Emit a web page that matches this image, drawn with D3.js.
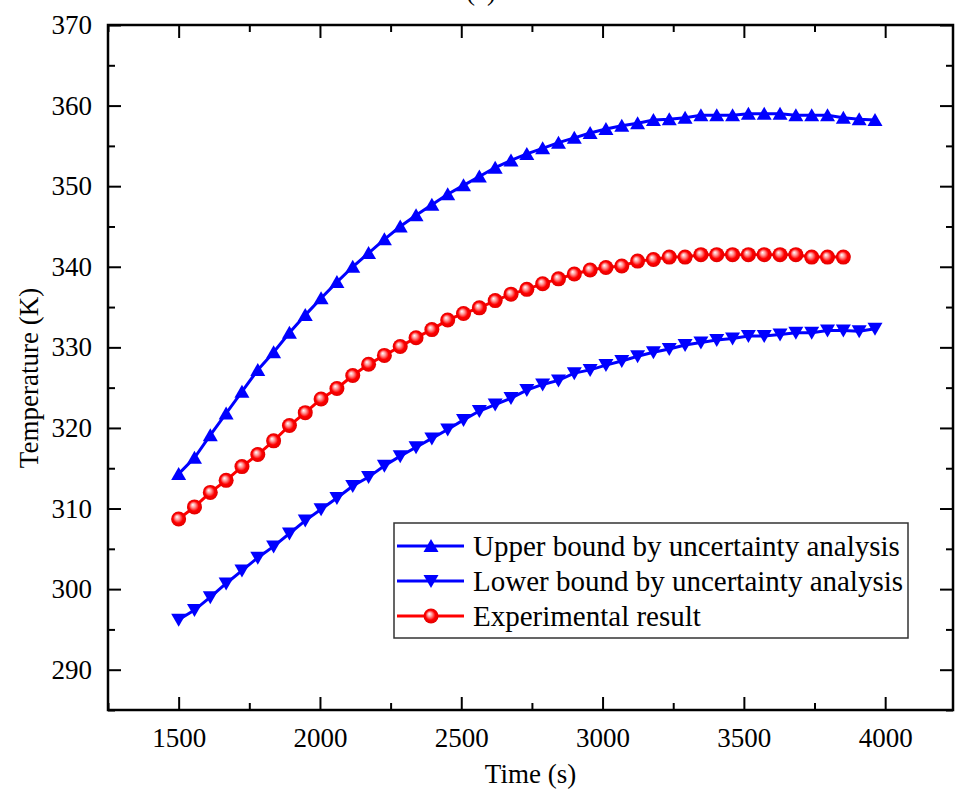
<!DOCTYPE html>
<html>
<head>
<meta charset="utf-8">
<script src="https://cdn.jsdelivr.net/npm/d3@7"></script>
<style>
  body { margin: 0; background: #fff; }
  svg { display: block; font-family: "Liberation Serif", "Times New Roman", serif; }
</style>
</head>
<body>
<svg id="chart"></svg>
<script>
// time stamps (s) of the markers
let times = [1500, 1556, 1612, 1668, 1724, 1780, 1836, 1892, 1948, 2004, 2060, 2116, 2172, 2228, 2284,
    2340, 2396, 2452, 2508, 2564, 2620, 2676, 2732, 2788, 2844, 2900, 2956, 3012, 3068, 3124,
    3180, 3236, 3292, 3348, 3404, 3460, 3516, 3572, 3628, 3684, 3740, 3796, 3852, 3908, 3964];

let upperValues = [314.3, 316.3, 319.1, 321.8, 324.5, 327.2, 329.4, 331.8, 334.0, 336.1, 338.1, 340.0,
    341.7, 343.4, 345.0, 346.4, 347.7, 349.0, 350.1, 351.2, 352.3, 353.2, 354.0, 354.7, 355.4, 356.0,
    356.6, 357.1, 357.5, 357.8, 358.2, 358.3, 358.5, 358.8, 358.8, 358.8, 359.0, 359.0, 359.0, 358.8,
    358.8, 358.8, 358.5, 358.3, 358.2];

let lowerValues = [296.2, 297.4, 299.0, 300.7, 302.3, 303.9, 305.3, 306.9, 308.5, 309.9, 311.3, 312.8,
    313.9, 315.3, 316.5, 317.6, 318.7, 319.8, 321.0, 322.1, 322.9, 323.7, 324.7, 325.4, 325.9, 326.8,
    327.2, 327.8, 328.3, 328.9, 329.4, 329.8, 330.3, 330.6, 330.9, 331.1, 331.4, 331.4, 331.6, 331.8,
    331.8, 332.1, 332.1, 332.0, 332.3];

let expValues = [308.7, 310.2, 312.0, 313.5, 315.2, 316.7, 318.4, 320.3, 321.9, 323.6, 324.9, 326.5,
    327.9, 329.0, 330.1, 331.2, 332.2, 333.4, 334.2, 334.9, 335.8, 336.6, 337.2, 337.9, 338.5, 339.1,
    339.6, 339.9, 340.1, 340.7, 340.9, 341.2, 341.2, 341.5, 341.5, 341.5, 341.5, 341.5, 341.5, 341.5,
    341.2, 341.2, 341.2];

let xTicks = [1500, 2000, 2500, 3000, 3500, 4000];
let xMinorTicks = [1250, 1750, 2250, 2750, 3250, 3750];
let yTicks = [290, 300, 310, 320, 330, 340, 350, 360, 370];
let yMinorTicks = [285, 295, 305, 315, 325, 335, 345, 355, 365];

let seriesNames = ["Upper bound by uncertainty analysis", "Lower bound by uncertainty analysis", "Experimental result"];

const width = 956;
const height = 791;
const plotLeft = 108, plotRight = 953, plotTop = 25, plotBottom = 710;
const blue = '#0000ff';
const red = '#ff0000';

let svg = d3.select('#chart').attr('width', width).attr('height', height);

let xScale = d3.scaleLinear().domain([1250, 4240]).range([plotLeft, plotRight]);
let yScale = d3.scaleLinear().domain([285, 370]).range([plotBottom, plotTop]);

// gradient for the shaded balls
let grad = svg.append('defs').append('radialGradient')
    .attr('id', 'ball').attr('cx', '50%').attr('cy', '50%').attr('r', '50%')
    .attr('fx', '38%').attr('fy', '35%');
grad.append('stop').attr('offset', '0%').attr('stop-color', '#ffffff');
grad.append('stop').attr('offset', '30%').attr('stop-color', '#ff9a9a');
grad.append('stop').attr('offset', '65%').attr('stop-color', '#ff0000');
grad.append('stop').attr('offset', '100%').attr('stop-color', '#e00000');

// title, cut off at the top as in the source figure
svg.append('text').attr('x', 481).attr('y', 0).attr('text-anchor', 'middle')
    .attr('font-size', 27).text('(a)');

let styleAxis = (g) => {
    g.select('.domain').remove();
    g.selectAll('line').attr('stroke', '#000').attr('stroke-width', 2);
    g.selectAll('text').attr('font-size', 27).attr('fill', '#000')
        .attr('font-family', '"Liberation Serif", serif');
};

// bottom
svg.append('g').attr('transform', 'translate(0,' + plotBottom + ')')
    .call(d3.axisBottom(xScale).tickValues(xTicks).tickSize(-13).tickPadding(18).tickFormat(d3.format('d')))
    .call(styleAxis);
svg.append('g').attr('transform', 'translate(0,' + plotBottom + ')')
    .call(d3.axisBottom(xScale).tickValues(xMinorTicks).tickSize(-7).tickFormat(''))
    .call(styleAxis);
// top
svg.append('g').attr('transform', 'translate(0,' + plotTop + ')')
    .call(d3.axisTop(xScale).tickValues(xTicks).tickSize(-13).tickFormat(''))
    .call(styleAxis);
svg.append('g').attr('transform', 'translate(0,' + plotTop + ')')
    .call(d3.axisTop(xScale).tickValues(xMinorTicks).tickSize(-7).tickFormat(''))
    .call(styleAxis);
// left
svg.append('g').attr('transform', 'translate(' + plotLeft + ',0)')
    .call(d3.axisLeft(yScale).tickValues(yTicks).tickSize(-13).tickPadding(16).tickFormat(d3.format('d')))
    .call(styleAxis);
svg.append('g').attr('transform', 'translate(' + plotLeft + ',0)')
    .call(d3.axisLeft(yScale).tickValues(yMinorTicks).tickSize(-7).tickFormat(''))
    .call(styleAxis);
// right
svg.append('g').attr('transform', 'translate(' + plotRight + ',0)')
    .call(d3.axisRight(yScale).tickValues(yTicks).tickSize(-13).tickFormat(''))
    .call(styleAxis);
svg.append('g').attr('transform', 'translate(' + plotRight + ',0)')
    .call(d3.axisRight(yScale).tickValues(yMinorTicks).tickSize(-7).tickFormat(''))
    .call(styleAxis);

svg.append('rect').attr('x', plotLeft).attr('y', plotTop)
    .attr('width', plotRight - plotLeft).attr('height', plotBottom - plotTop)
    .attr('fill', 'none').attr('stroke', '#000').attr('stroke-width', 2.5);

// axis titles
svg.append('text').attr('x', (plotLeft + plotRight) / 2).attr('y', 783).attr('text-anchor', 'middle')
    .attr('font-size', 27).text('Time (s)');
svg.append('text').attr('transform', 'translate(38,378) rotate(-90)').attr('text-anchor', 'middle')
    .attr('font-size', 27).text('Temperature (K)');

let upTri = 'M0,-7 L7.5,6 L-7.5,6 Z';
let downTri = 'M0,7 L7.5,-6 L-7.5,-6 Z';

let line = d3.line().x(d => xScale(d[0])).y(d => yScale(d[1]));

let series = [
    { values: upperValues, color: blue, marker: 'up' },
    { values: lowerValues, color: blue, marker: 'down' },
    { values: expValues, color: red, marker: 'ball' }
];

series.forEach((s) => {
    let pts = s.values.map((v, i) => [times[i], v]);
    svg.append('path').datum(pts).attr('d', line)
        .attr('fill', 'none').attr('stroke', s.color).attr('stroke-width', 3);
    let g = svg.append('g');
    if (s.marker === 'ball') {
        g.selectAll('circle').data(pts).enter().append('circle')
            .attr('cx', d => xScale(d[0])).attr('cy', d => yScale(d[1]))
            .attr('r', 7.5).attr('fill', 'url(#ball)');
    } else {
        g.selectAll('path').data(pts).enter().append('path')
            .attr('d', s.marker === 'up' ? upTri : downTri)
            .attr('transform', d => 'translate(' + xScale(d[0]) + ',' + yScale(d[1]) + ')')
            .attr('fill', s.color);
    }
});

// legend
let legend = svg.append('g');
legend.append('rect').attr('x', 394).attr('y', 523).attr('width', 514).attr('height', 115)
    .attr('fill', '#fff').attr('stroke', '#333').attr('stroke-width', 1.5);
let rowY = [546, 581, 616];
series.forEach((s, i) => {
    let y = rowY[i];
    legend.append('line').attr('x1', 397).attr('x2', 464).attr('y1', y).attr('y2', y)
        .attr('stroke', s.color).attr('stroke-width', 3);
    if (s.marker === 'ball') {
        legend.append('circle').attr('cx', 431).attr('cy', y).attr('r', 7.5).attr('fill', 'url(#ball)');
    } else {
        legend.append('path').attr('d', s.marker === 'up' ? upTri : downTri)
            .attr('transform', 'translate(431,' + y + ')').attr('fill', s.color);
    }
    legend.append('text').attr('x', 473).attr('y', y).attr('dy', '0.35em')
        .attr('font-size', 29).text(seriesNames[i]);
});
</script>
</body>
</html>
